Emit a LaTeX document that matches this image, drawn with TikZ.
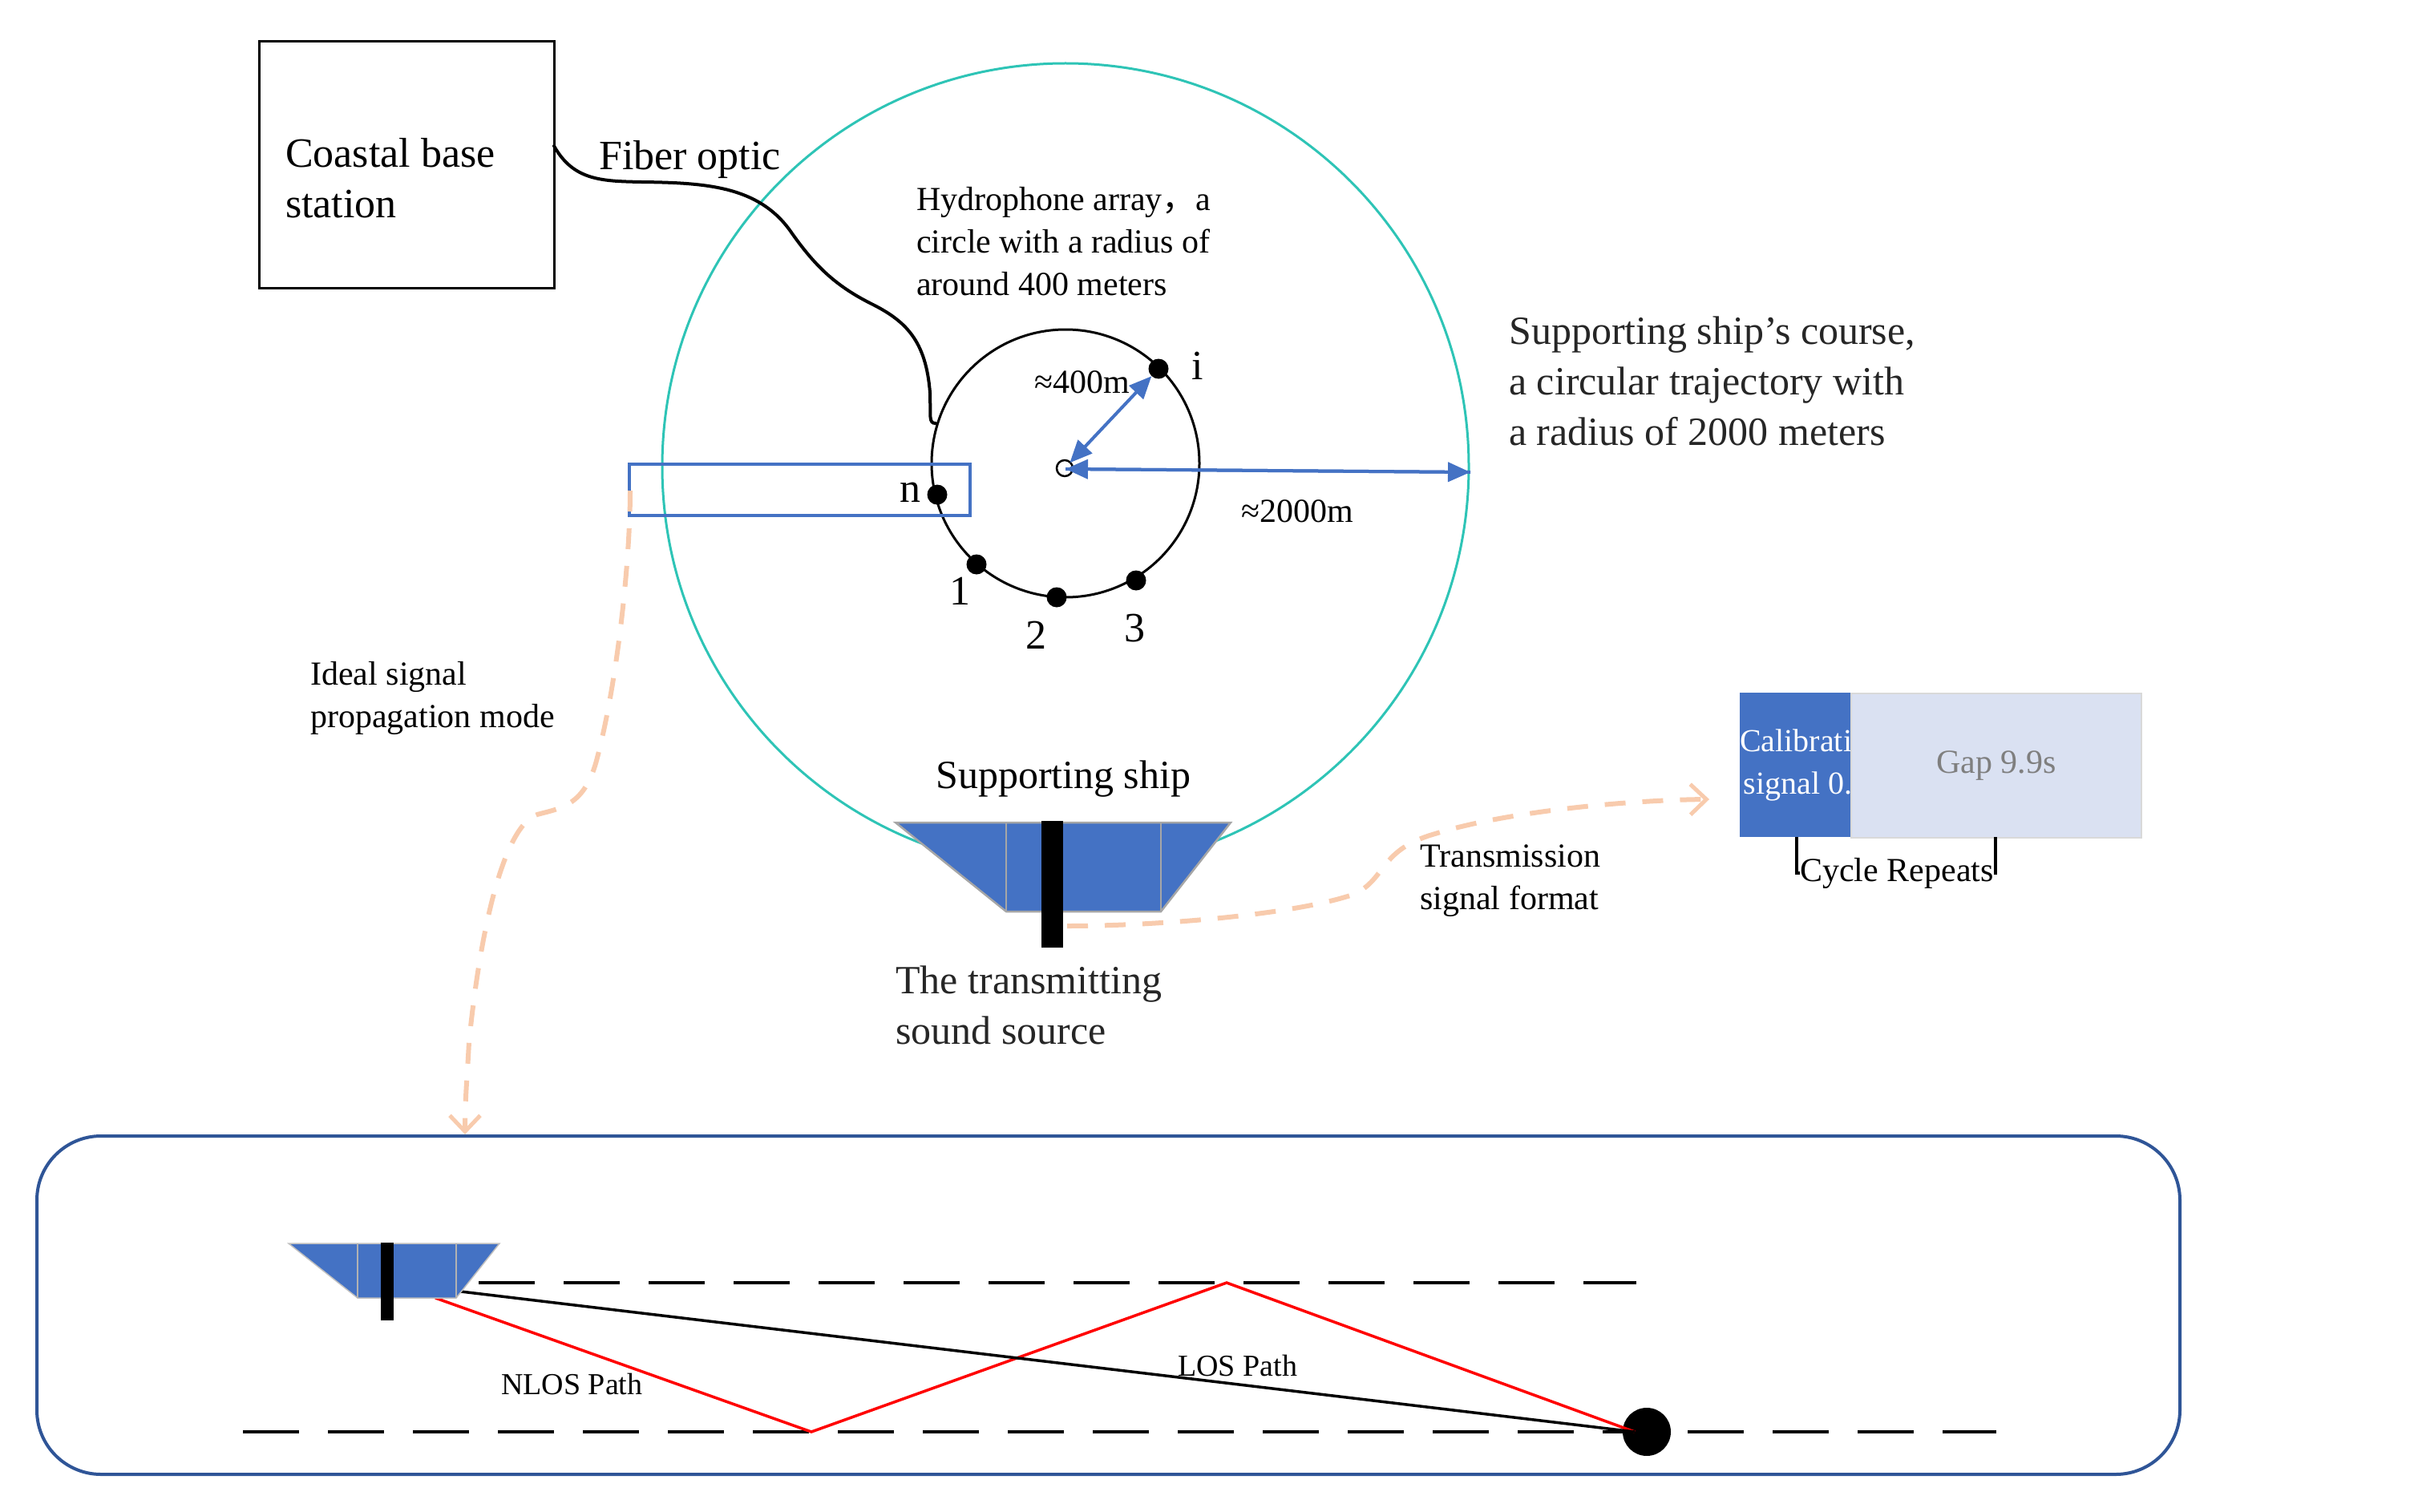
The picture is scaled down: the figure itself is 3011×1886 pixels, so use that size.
\documentclass[tikz,border=0pt]{standalone}
\usepackage{fontspec}
\setmainfont{Liberation Serif}
\newfontfamily\cjk{Noto Sans CJK SC}
\usetikzlibrary{arrows.meta,calc}
\definecolor{shipblue}{HTML}{4472C4}
\definecolor{teal1}{HTML}{2EC4B6}
\definecolor{peach}{HTML}{F8CBAD}
\definecolor{boxblue}{HTML}{2F5597}
\definecolor{gapfill}{HTML}{DAE1F2}
\definecolor{gaptext}{HTML}{7F7F7F}
\definecolor{darktext}{HTML}{262626}
\tikzset{
  lbl/.style 2 args={inner sep=0pt,align=left,anchor=west,font=\fontsize{#1}{#2}\selectfont},
  dotnode/.style={circle,fill=black,inner sep=0pt,minimum size=25pt},
  shipfill/.style={fill=shipblue,draw=#1,line width=2.5pt,line join=miter},
  bluearrow/.style={draw=shipblue,line width=4pt,-{Triangle[length=28pt,width=24pt]}},
  bluedouble/.style={draw=shipblue,line width=4pt,{Triangle[length=28pt,width=24pt]}-{Triangle[length=28pt,width=24pt]}},
  peachline/.style={draw=peach,line width=6pt,dash pattern=on 26pt off 21pt,-{Straight Barb[length=20pt,width=38pt,line width=5pt]}},
  waterline/.style={draw=black,line width=3.5pt,dash pattern=on 70pt off 36pt},
  ray/.style={draw=red,line width=3.5pt,line join=miter},
}
\begin{document}
\begin{tikzpicture}[x=1pt,y=-1pt]
\useasboundingbox (0,0) rectangle (3011,1886);
% circles
\node[circle,draw=teal1,line width=3pt,minimum size=1006pt,inner sep=0pt] (course) at (1329,582) {};
\node[circle,draw=black,line width=3pt,minimum size=334pt,inner sep=0pt] (array) at (1329,578) {};
\node[circle,draw=black,line width=2.5pt,minimum size=20pt,inner sep=0pt] (center) at (1328,584) {};
% base station
\node[draw=black,line width=3pt,minimum width=368pt,minimum height=307pt,inner sep=0pt] (base) at (507,205.5) {};
\node[lbl={52}{63}] (basetext) at (356,222) {Coastal base\\station};
\node[lbl={52}{63}] (fiber) at (747,199) {Fiber optic};
% fibre
\coordinate (fa) at (691,182);
\coordinate (fb) at (1167,528);
\draw[black,line width=4pt,line cap=round] (fa) .. controls (715,225) and (750,226) .. (800,227)
  .. controls (880,228) and (945,232) .. (985,287)
  .. controls (1015,330) and (1040,355) .. (1085,378)
  .. controls (1130,400) and (1155,425) .. (1160,490)
  .. controls (1161,520) and (1158,528) .. (fb);
% blue rect
\node[draw=shipblue,line width=4pt,minimum width=425pt,minimum height=64pt,inner sep=0pt] (nbox) at (997.5,610.5) {};
% dots
\node[dotnode] (dn) at (1169,617) {};
\node[dotnode] (d1) at (1218,704) {};
\node[dotnode] (d2) at (1318,745) {};
\node[dotnode] (d3) at (1417,724) {};
\node[dotnode] (di) at (1445,460) {};
\node[lbl={52}{63}] (ln) at (1122,614) {n};
\node[lbl={52}{63}] (l1) at (1184,737) {1};
\node[lbl={52}{63}] (l2) at (1279,792) {2};
\node[lbl={52}{63}] (l3) at (1402,784) {3};
\node[lbl={52}{63}] (li) at (1486,456) {i};
% arrows
\coordinate (ctr) at (1329,585);
\coordinate (courseend) at (1834,589);
\draw[bluedouble,shorten >=-2pt] (di) -- (center);
\draw[bluearrow] (courseend) -- (ctr);
\draw[bluearrow] (ctr) -- (courseend);
\node[lbl={42}{53}] (r400) at (1290,477) {≈400m};
\node[lbl={42}{53}] (r2000) at (1548,638) {≈2000m};
\node[lbl={42}{53},text=black] (hydro) at (1143,301) {Hydrophone array{\cjk ，}a\\circle with a radius of\\around 400 meters};
\node[lbl={50}{63},text=darktext] (coursetext) at (1882,475) {Supporting ship's course,\\a circular trajectory with\\a radius of 2000 meters};
% ship
\node[lbl={50}{63}] (shiplabel) at (1167,972) {Supporting ship};
\coordinate (sa) at (1117,1026); \coordinate (sb) at (1535,1026);
\coordinate (sc) at (1448,1137); \coordinate (sd) at (1255,1137);
\path[shipfill=gray!70] (sa) -- (sb) -- (sc) -- (sd) -- cycle;
\draw[gray!70,line width=2.5pt] (sd) -- (sd |- sa) (sc) -- (sc |- sb);
\fill[black] (1299,1024) rectangle (1326,1182);
\node[lbl={50}{63},text=darktext] (srctext) at (1117,1254) {The transmitting\\sound source};
% peach curves
\coordinate (pa) at (786,612);
\coordinate (pb) at (580,1415);
\draw[peachline] (pa) .. controls (786,700) and (770,850) .. (745,945)
  .. controls (730,1005) and (700,1008) .. (670,1016)
  .. controls (630,1030) and (600,1150) .. (585,1300)
  .. controls (583,1340) and (580,1370) .. (pb);
\coordinate (pc) at (1331,1155);
\coordinate (pd) at (2132,997);
\draw[peachline] (pc) .. controls (1450,1155) and (1620,1140) .. (1690,1115)
  .. controls (1730,1095) and (1720,1060) .. (1790,1040)
  .. controls (1880,1012) and (2030,998) .. (pd);
\node[lbl={42}{53}] (ideal) at (387,871) {Ideal signal\\propagation mode};
\node[lbl={42}{53}] (txfmt) at (1771,1099) {Transmission\\signal format};
% signal format
\node[fill=shipblue,draw=none,minimum width=138pt,minimum height=180pt,inner sep=0pt,anchor=north west,align=center,text=white,font=\fontsize{40}{53}\selectfont] (cal) at (2170,864) {Calibration\\signal 0.1s};
\node[fill=gapfill,draw=gray!30,line width=1.5pt,minimum width=362pt,minimum height=180pt,inner sep=0pt,anchor=north west,text=gaptext,font=\fontsize{42}{50}\selectfont] (gap) at (2308,864) {Gap 9.9s};
\node[inner sep=0pt,font=\fontsize{42}{50}\selectfont] (cycle) at (2366,1089) {Cycle Repeats};
\draw[black,line width=4pt] (cycle.west) -- (2241,1089) -- (2241,1044);
\draw[black,line width=4pt] (cycle.east) -- (2489,1089) -- (2489,1044);
% lower panel
\node[draw=boxblue,line width=4pt,rounded corners=80pt,minimum width=2673pt,minimum height=422pt,inner sep=0pt] (panel) at (1382.5,1628) {};
\coordinate (wt1) at (597,1600); \coordinate (wt2) at (2041,1600);
\coordinate (wb1) at (303,1786); \coordinate (wb2) at (2490,1786);
\draw[waterline] (wt1) -- (wt2);
\draw[waterline] (wb1) -- (wb2);
\node[circle,fill=black,inner sep=0pt,minimum size=60pt] (rx) at (2054,1786) {};
\coordinate (txred) at (543,1619); \coordinate (txblk) at (575,1611);
\coordinate (rb1) at (1012,1786); \coordinate (rt1) at (1530,1600); \coordinate (rxp) at (2039,1786);
\draw[ray] (txred) -- (rb1) -- (rt1) -- (rxp);
\draw[black,line width=3.5pt] (txblk) -- (rxp);
\coordinate (ta) at (360,1551); \coordinate (tb) at (623,1551);
\coordinate (tc) at (569,1619); \coordinate (td) at (446,1619);
\path[shipfill=gray!50,line width=1.5pt] (ta) -- (tb) -- (tc) -- (td) -- cycle;
\draw[gray!60,line width=2pt] (td) -- (td |- ta) (tc) -- (tc |- tb);
\fill[black] (475,1550) rectangle (491,1647);
\node[lbl={38}{46}] (nlos) at (625,1726) {NLOS Path};
\node[lbl={38}{46}] (los) at (1469,1703) {LOS Path};
\end{tikzpicture}
\end{document}
